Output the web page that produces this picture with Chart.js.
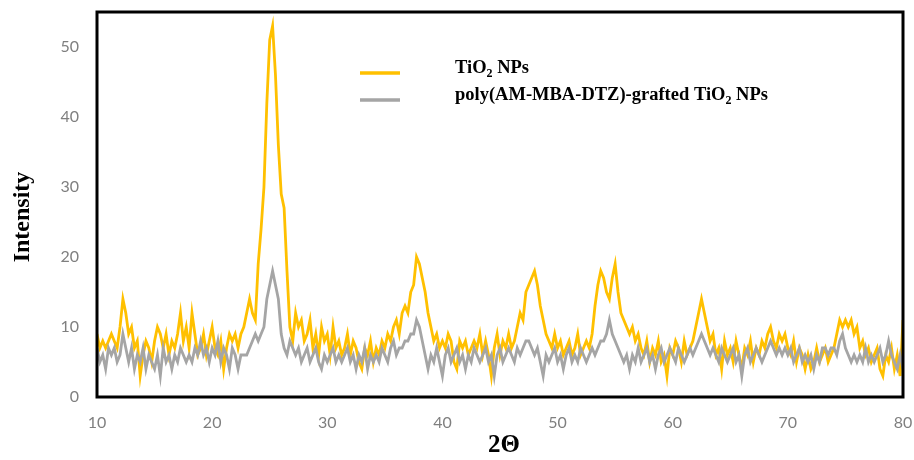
<!DOCTYPE html>
<html>
<head>
<meta charset="utf-8">
<script src="https://cdn.jsdelivr.net/npm/chart.js@4.4.1/dist/chart.umd.min.js"></script>
<style>
html,body{margin:0;padding:0;background:#fff;}
#wrap{width:914px;height:460px;position:relative;}
</style>
</head>
<body>
<div id="wrap"><canvas id="c" width="914" height="460"></canvas></div>
<script>
// 2θ grid: 10° to 80° in 0.25° steps
const angleStart = 10;
const angleStep = 0.25;
const xTicks = [10, 20, 30, 40, 50, 60, 70, 80];
const yTicks = [0, 10, 20, 30, 40, 50];
const seriesNames = ["TiO|2| NPs", "poly(AM-MBA-DTZ)-grafted TiO|2| NPs"];

const tio2 = [
  9,7,8,7,8,9,8,7,10,14,12,9,10,7,8,3,6,8,7,5,
  8,10,9,7,9,6,8,7,9,12,8,10,7,12,9,6,7,9,6,8,
  10,7,6,8,4,7,9,8,9,7,9,10,12,14,12,11,19,24,30,42,
  51,53,46,36,29,27,18,10,8,12,10,11,8,9,11,7,9,6,10,8,
  9,6,10,7,8,6,7,9,6,8,7,5,4,7,6,8,5,7,6,8,
  7,9,8,10,11,9,12,13,12,15,16,20,19,17,15,12,10,8,9,7,
  8,7,9,8,5,4,8,7,8,6,7,8,7,9,6,8,6,3,7,9,
  6,8,7,9,7,8,10,12,11,15,16,17,18,16,13,11,9,8,7,9,
  7,8,6,7,8,6,7,9,6,7,8,7,9,13,16,18,17,15,14,17,
  19,15,12,11,10,9,10,8,9,7,6,8,5,7,6,8,5,6,3,7,
  6,8,7,5,8,6,7,8,10,12,14,12,10,8,9,6,7,4,8,6,
  7,5,8,6,4,7,6,8,5,7,6,8,7,9,10,8,7,9,8,9,
  7,6,8,5,7,6,4,6,4,5,7,5,6,7,5,6,7,9,11,10,
  11,10,11,9,10,7,8,6,7,5,6,7,4,3,6,5,7,4,6,3,
  11
];

const grafted = [
  7,5,6,4,7,6,7,5,6,9,7,5,7,4,6,5,7,4,6,5,
  4,6,3,7,5,6,4,6,5,7,6,5,6,5,7,6,8,6,7,5,
  7,6,8,5,7,6,4,7,6,4,6,6,6,7,8,9,8,9,10,14,
  16,18,16,14,9,7,6,8,7,6,7,5,6,7,5,6,7,5,4,6,
  5,6,7,5,6,5,6,7,5,6,4,6,5,7,4,6,5,6,5,7,
  6,5,7,8,6,7,7,8,8,9,9,11,10,8,6,4,6,5,7,5,
  3,6,7,5,6,7,5,6,4,6,5,7,6,5,6,7,5,6,3,6,
  7,5,6,7,6,5,7,6,7,8,8,7,6,7,5,3,6,5,6,7,
  5,6,4,6,7,5,6,5,7,6,5,6,7,6,7,8,8,9,11,9,
  8,7,6,5,6,4,6,5,7,5,6,7,5,6,4,6,7,5,6,7,
  6,5,7,6,5,6,7,6,7,8,9,8,7,6,7,6,5,7,6,5,
  6,7,5,6,3,6,7,5,6,7,6,5,6,7,8,7,6,7,6,7,
  6,7,5,6,7,5,6,5,6,4,6,5,7,7,6,7,7,6,8,9,
  7,6,5,6,5,6,5,7,5,6,5,6,7,5,6,8,6,5,4,6,
  4
];

const angles = tio2.map((_, i) => angleStart + i * angleStep);
const toPoints = arr => arr.map((v, i) => ({x: angles[i], y: v}));

const YELLOW = '#FFC000';
const GRAY = '#A5A5A5';
const SERIF = '"Liberation Serif", "Times New Roman", serif';

function drawRich(ctx, text, x, y, size) {
  // segments separated by '|': normal, subscript, normal...
  const parts = text.split('|');
  let cx = x;
  parts.forEach((p, i) => {
    const sub = i % 2 === 1;
    ctx.font = 'bold ' + (sub ? Math.round(size * 0.65) : size) + 'px ' + SERIF;
    ctx.fillText(p, cx, sub ? y + size * 0.22 : y);
    cx += ctx.measureText(p).width;
  });
}

const framePlugin = {
  id: 'frame',
  afterDatasetsDraw(chart) {
    const {ctx, chartArea: a} = chart;
    ctx.save();
    ctx.strokeStyle = '#000';
    ctx.lineWidth = 3;
    ctx.strokeRect(a.left, a.top, a.right - a.left, a.bottom - a.top);
    ctx.restore();
  },
  afterDraw(chart) {
    const ctx = chart.ctx;
    ctx.save();
    const colors = [YELLOW, GRAY];
    const ys = [73, 100];
    seriesNames.forEach((name, i) => {
      ctx.strokeStyle = colors[i];
      ctx.lineWidth = 3.5;
      ctx.beginPath();
      ctx.moveTo(360, ys[i]);
      ctx.lineTo(400, ys[i]);
      ctx.stroke();
      ctx.fillStyle = '#000';
      ctx.textBaseline = 'alphabetic';
      ctx.textAlign = 'left';
      drawRich(ctx, name, 455, ys[i] + 0, 18.5);
    });
    ctx.translate(23, 217);
    ctx.rotate(-Math.PI / 2);
    ctx.font = 'bold 24px ' + SERIF;
    ctx.textAlign = 'center';
    ctx.textBaseline = 'middle';
    ctx.fillStyle = '#000';
    ctx.fillText('Intensity', 0, 0);
    ctx.restore();
    ctx.save();
    ctx.font = 'bold 25px ' + SERIF;
    ctx.textAlign = 'center';
    ctx.textBaseline = 'middle';
    ctx.fillStyle = '#000';
    ctx.fillText('2\u0398', 504, 446);
    ctx.restore();
  }
};

new Chart(document.getElementById('c'), {
  type: 'line',
  data: {
    datasets: [
      {label: 'TiO2 NPs', data: toPoints(tio2), borderColor: YELLOW, borderWidth: 2.8, pointRadius: 0, tension: 0, order: 1},
      {label: 'poly(AM-MBA-DTZ)-grafted TiO2 NPs', data: toPoints(grafted), borderColor: GRAY, borderWidth: 2.8, pointRadius: 0, tension: 0, order: 0}
    ]
  },
  options: {
    responsive: false,
    animation: false,
    layout: {padding: {left: 0, right: 11, top: 12, bottom: 0}},
    plugins: {legend: {display: false}, tooltip: {enabled: false}},
    scales: {
      x: {
        type: 'linear', min: 10, max: 80,
        afterBuildTicks: s => { s.ticks = xTicks.map(v => ({value: v})); },
        afterFit: s => { s.height = 63; s.paddingLeft = 0; s.paddingRight = 0; },
        grid: {display: false, drawTicks: false},
        border: {display: false},
        ticks: {color: '#7F7F7F', font: {family: 'Lato', size: 16}, padding: 16, maxRotation: 0}
      },
      y: {
        min: 0, max: 55,
        afterBuildTicks: s => { s.ticks = yTicks.map(v => ({value: v})); },
        afterFit: s => { s.width = 97; s.paddingTop = 0; s.paddingBottom = 0; },
        grid: {display: false, drawTicks: false},
        border: {display: false},
        ticks: {color: '#7F7F7F', font: {family: 'Lato', size: 16}, padding: 18}
      }
    }
  },
  plugins: [framePlugin]
});
</script>
</body>
</html>
